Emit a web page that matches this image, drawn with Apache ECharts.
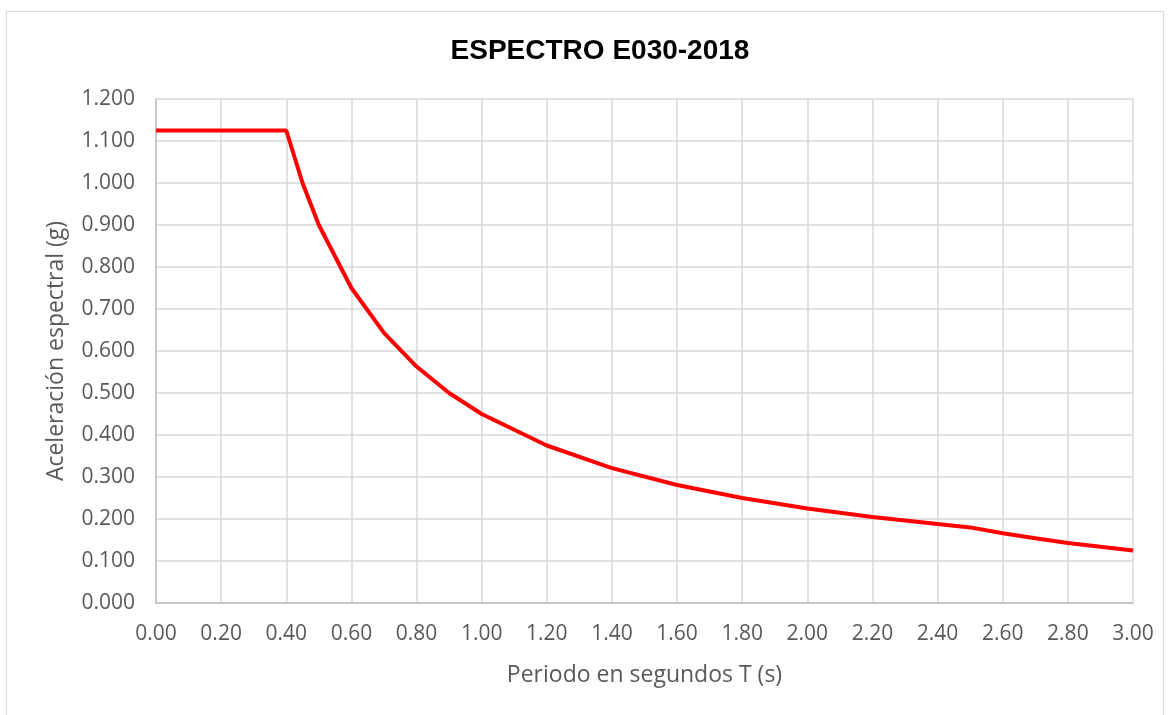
<!DOCTYPE html>
<html>
<head>
<meta charset="utf-8">
<script src="https://cdn.jsdelivr.net/npm/echarts@6/dist/echarts.min.js"></script>
<style>
html,body{margin:0;padding:0;background:#fff;}
#chart{width:1169px;height:715px;}
</style>
</head>
<body>
<div id="chart"></div>
<script>
// Period T (s)
const periods = [0.00, 0.10, 0.20, 0.30, 0.40, 0.45, 0.50, 0.60, 0.70, 0.80, 0.90, 1.00, 1.20, 1.40, 1.60, 1.80, 2.00, 2.20, 2.40, 2.50, 2.60, 2.70, 2.80, 2.90, 3.00];
// Spectral acceleration (g)
const accel = [1.125, 1.125, 1.125, 1.125, 1.125, 1.000, 0.900, 0.750, 0.643, 0.563, 0.500, 0.450, 0.375, 0.321, 0.281, 0.250, 0.225, 0.205, 0.188, 0.180, 0.166, 0.154, 0.143, 0.134, 0.125];

const titleText = 'ESPECTRO E030-2018';
const xName = 'Periodo en segundos T (s)';
const yName = 'Aceleración espectral (g)';

const chart = echarts.init(document.getElementById('chart'), null, {renderer: 'canvas'});
const labelFont = {color: '#595959', fontFamily: 'Open Sans', fontSize: 21};
chart.setOption({
  animation: false,
  backgroundColor: '#ffffff',
  title: {
    text: titleText,
    left: 595, top: 32, textAlign: 'center',
    textStyle: {fontFamily: 'Liberation Sans', fontWeight: 'bold', fontSize: 28, color: '#000000'}
  },
  graphic: [{
    type: 'rect', silent: true,
    shape: {x: 6.5, y: 11.5, width: 1157, height: 710},
    style: {fill: 'none', stroke: '#d9d9d9', lineWidth: 1}
  }],
  grid: {left: 156, right: 36, top: 99, bottom: 112},
  xAxis: {
    type: 'value', min: 0, max: 3, interval: 0.2,
    name: xName, nameLocation: 'middle', nameGap: 61,
    nameTextStyle: {color: '#595959', fontFamily: 'Open Sans', fontSize: 23},
    axisLine: {show: true, lineStyle: {color: '#bfbfbf', width: 1.5}},
    axisTick: {show: false},
    splitLine: {show: true, lineStyle: {color: '#d9d9d9', width: 1.5}},
    axisLabel: Object.assign({margin: 21, formatter: v => v.toFixed(2)}, labelFont)
  },
  yAxis: {
    type: 'value', min: 0, max: 1.2, interval: 0.1,
    name: yName, nameLocation: 'middle', nameGap: 88, nameRotate: 90,
    nameTextStyle: {color: '#595959', fontFamily: 'Open Sans', fontSize: 23},
    axisLine: {show: true, lineStyle: {color: '#bfbfbf', width: 1.5}},
    axisTick: {show: false},
    splitLine: {show: true, lineStyle: {color: '#d9d9d9', width: 1.5}},
    axisLabel: Object.assign({margin: 21, formatter: v => v.toFixed(3)}, labelFont)
  },
  series: [{
    type: 'line',
    data: periods.map((t, i) => [t, accel[i]]),
    showSymbol: false,
    lineStyle: {color: '#ff0000', width: 4},
    itemStyle: {color: '#ff0000'}
  }]
});
</script>
</body>
</html>
